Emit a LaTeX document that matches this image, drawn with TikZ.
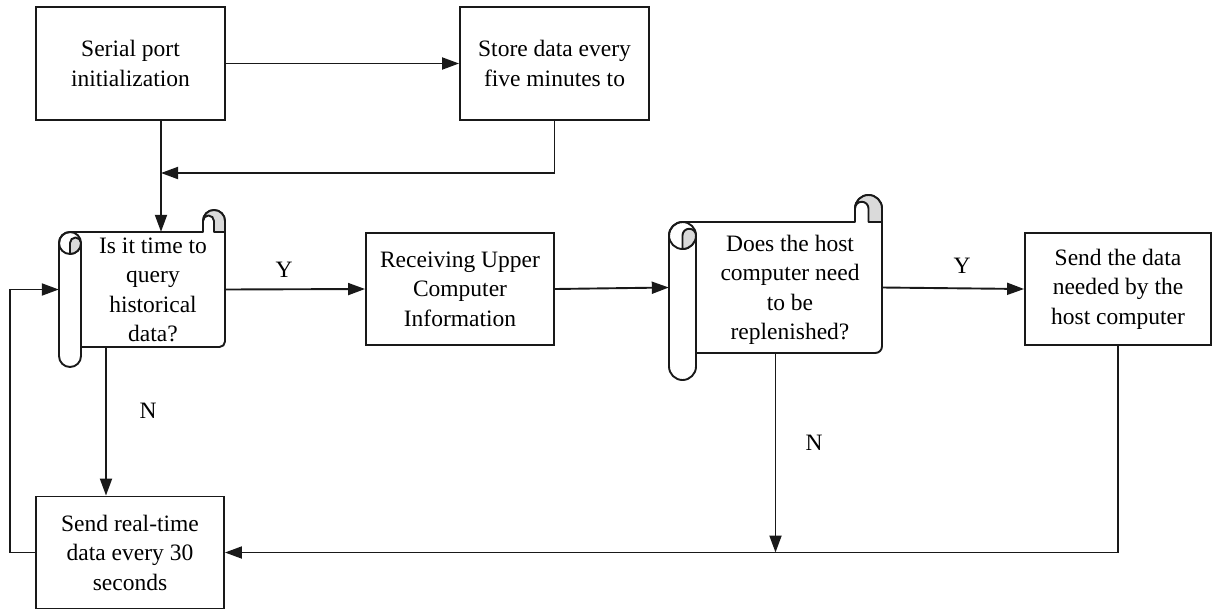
\documentclass[tikz,border=0pt]{standalone}
\usepackage{fontspec}
\setmainfont{Liberation Serif}
\newfontfamily\tnr{Liberation Serif}
\usetikzlibrary{arrows.meta,calc}
\definecolor{linec}{RGB}{25,25,25}
\definecolor{curlgray}{RGB}{218,218,218}
\newcommand{\drawscroll}[6]{%
  \def\sL{#1}\def\sT{#2}\def\sR{#3}\def\sB{#4}\def\sw{#5}\def\sBt{#6}%
  \filldraw[scrollline, fill=white] ({\sL+\sw},\sB) -- ({\sR-\sw/4},\sB)
     arc[start angle=90,end angle=0,radius=\sw/4]
     -- (\sR,{\sT-\sw/2}) arc[start angle=0,end angle=-180,radius=\sw/2]
     -- ({\sR-\sw},\sT) -- ({\sL+\sw/2},\sT)
     arc[start angle=-90,end angle=-180,radius=\sw/2]
     -- (\sL,{\sBt-\sw/2}) arc[start angle=180,end angle=0,radius=\sw/2] -- cycle;
  % top right curl
  \filldraw[scrollline, fill=curlgray] ({\sR-\sw/2},\sT) -- (\sR,\sT) -- (\sR,{\sT-\sw/2})
     arc[start angle=0,end angle=-180,radius=\sw/2]
     arc[start angle=-180,end angle=0,radius=\sw/4] -- cycle;
  % left roll top
  \draw[scrollline] ({\sL+\sw/2},{\sT+\sw/2}) circle[radius=\sw/2];
  \filldraw[scrollline, fill=curlgray] ({\sL+\sw/2},{\sT+\sw})
     -- ({\sL+\sw/2},{\sT+\sw/2})
     arc[start angle=-180,end angle=0,radius=\sw/4]
     arc[start angle=0,end angle=90,radius=\sw/2] -- cycle;
  \draw[scrollline] ({\sL+\sw},{\sT+\sw/2}) -- ({\sL+\sw},\sB);
}
\begin{document}
\begin{tikzpicture}[x=1pt,y=-1pt,
  scrollline/.style={draw=linec, line width=1.9pt, line join=round},
  box/.style={draw=linec, line width=1.9pt, align=center, inner sep=0pt,
    font=\tnr\fontsize{23.5}{29.5}\selectfont},
  holder/.style={draw=none, inner sep=0pt},
  txt/.style={align=center, inner sep=0pt, font=\tnr\fontsize{23.5}{29.5}\selectfont},
  lbl/.style={inner sep=0pt, font=\tnr\fontsize{23.5}{28}\selectfont},
  arr/.style={draw=linec, line width=1.9pt, -{Triangle[length=17pt,width=12pt]}},
  conn/.style={draw=linec, line width=1.9pt}]
\useasboundingbox (0,0) rectangle (1212,611);

% scroll shapes
\drawscroll{59}{232}{225}{347}{22}{367}
\drawscroll{669}{222}{882}{353}{27}{380}

\node[holder, minimum width=166pt, minimum height=115pt] (s1) at (142,289.5) {};
\node[holder, minimum width=213pt, minimum height=131pt] (s2) at (775.5,287.5) {};
\node[txt] (s1t) at (153,290) {Is it time to\\query\\historical\\data?};
\node[txt] (s2t) at (790,290) {Does the host\\computer need\\to be\\replenished?};

% boxes
\node[box, minimum width=189pt, minimum height=113pt] (b1) at (130.5,63.5) {Serial port\\initialization};
\node[box, minimum width=189pt, minimum height=113pt] (store) at (554.5,63.5) {Store data every\\five minutes to};
\node[box, minimum width=188pt, minimum height=112pt] (rec) at (460,289) {Receiving Upper\\Computer\\Information};
\node[box, minimum width=186pt, minimum height=112pt] (snd) at (1118,289) {Send the data\\needed by the\\host computer};
\node[box, minimum width=188pt, minimum height=112pt] (rt) at (130,552.5) {Send real-time\\data every 30\\seconds};

% labels
\node[lbl] (ly1) at (284,270) {Y};
\node[lbl] (ly2) at (962,266) {Y};
\node[lbl] (ln1) at (148,411) {N};
\node[lbl] (ln2) at (814,443) {N};

% junction coordinates
\coordinate (j1) at (161,173);
\coordinate (j2) at (s2.south |- rt.east);
\coordinate (j3) at (106,400);

% connectors
\draw[arr] (b1.east) -- (store.west);
\draw[arr] (j1 |- b1.south) -- (j1 |- s1.north);
\draw[arr] (store.south) |- (j1);
\draw[arr] (s1.east) -- (rec.west);
\draw[arr] (rec.east) -- (s2.west);
\draw[arr] (s2.east) -- (snd.west);
\draw[arr] (s2.south) -- (j2);
\draw[arr] (snd.south) |- (rt.east);
\draw[arr] (j3 |- s1.south) -- (j3 |- rt.north);
\draw[arr] (rt.west) -- ++(-25,0) |- (s1.west);
\end{tikzpicture}
\end{document}
